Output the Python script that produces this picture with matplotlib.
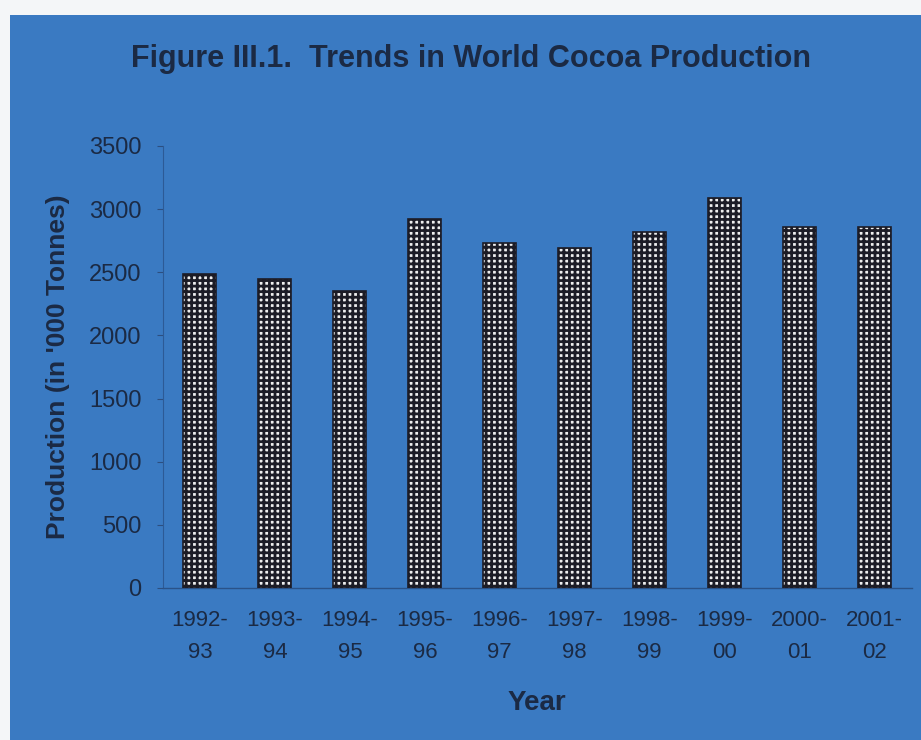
import matplotlib
matplotlib.use("Agg")
import matplotlib.pyplot as plt
from matplotlib.patches import Rectangle

years = ["1992-\n93", "1993-\n94", "1994-\n95", "1995-\n96", "1996-\n97",
         "1997-\n98", "1998-\n99", "1999-\n00", "2000-\n01", "2001-\n02"]
production = [2490, 2450, 2350, 2920, 2730, 2690, 2820, 3085, 2855, 2855]
yticks = [0, 500, 1000, 1500, 2000, 2500, 3000, 3500]

BLUE = "#3a7ac2"
TXT = "#1b2a44"

plt.rcParams["font.family"] = ["Liberation Sans", "DejaVu Sans"]
plt.rcParams["hatch.linewidth"] = 2.0

W, H = 921, 740
fig = plt.figure(figsize=(W / 100, H / 100), dpi=100, facecolor=BLUE)
# white scan margins (top and left)
fig.patches.append(Rectangle((0, 1 - 15 / H), 1, 15 / H, transform=fig.transFigure,
                             facecolor="#f4f6f8", edgecolor="none", zorder=-5))
fig.patches.append(Rectangle((0, 0), 10 / W, 1, transform=fig.transFigure,
                             facecolor="#f4f6f8", edgecolor="none", zorder=-5))

ax = fig.add_axes([162.5 / W, 1 - 588 / H, (912 - 162.5) / W, (588 - 146) / H])
ax.set_facecolor("none")
x = list(range(len(years)))
ax.bar(x, production, width=0.44, facecolor="#eeeeee", edgecolor="#1c1c26",
       hatch="+++", linewidth=1.2, zorder=3)

ax.set_xlim(-0.5, len(years) - 0.5)
ax.set_ylim(0, 3500)
ax.set_yticks(yticks)
ax.set_yticklabels([str(v) for v in yticks], fontsize=17, color=TXT)
ax.set_xticks(x)
ax.set_xticklabels(years, fontsize=16, color=TXT, linespacing=1.7)
ax.tick_params(axis="y", length=4, color="#2c4f80", pad=11)
ax.tick_params(axis="x", length=0, pad=16)

for s in ["top", "right"]:
    ax.spines[s].set_visible(False)
ax.spines["left"].set_color("#2c5a96")
ax.spines["bottom"].set_color("#2a5288")
ax.spines["left"].set_linewidth(0.8)
ax.spines["bottom"].set_linewidth(1.0)

ax.set_ylabel("Production (in '000 Tonnes)", fontsize=19, fontweight="bold",
              color=TXT, labelpad=14)
ax.set_xlabel("Year", fontsize=20, fontweight="bold", color=TXT, labelpad=19)

fig.text(471 / W, 1 - 59 / H, "Figure III.1.  Trends in World Cocoa Production",
         ha="center", va="center", fontsize=22, fontweight="bold", color=TXT)

fig.savefig("out.png", dpi=100, facecolor=fig.get_facecolor())
